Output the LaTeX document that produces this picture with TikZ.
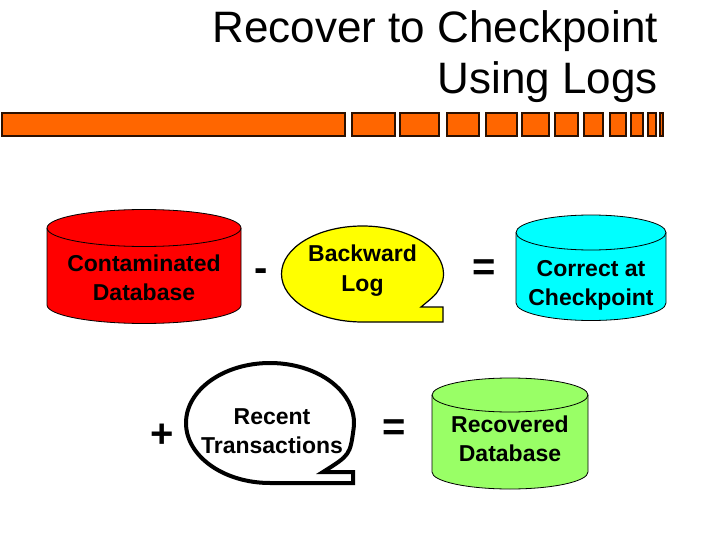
\documentclass[tikz,border=0pt]{standalone}
\usepackage{fontspec}
\setmainfont{Liberation Sans}
\definecolor{barorange}{HTML}{FF6600}
\definecolor{bardark}{HTML}{2B1000}
\definecolor{dbred}{HTML}{FF0000}
\definecolor{dbcyan}{HTML}{00FFFF}
\definecolor{dbgreen}{HTML}{99FF66}
\definecolor{logyellow}{HTML}{FFFF00}
\newcommand\dbcyl[6]{%
  \filldraw[cyl, fill=#6] (#1-#2,#3) -- (#1-#2,#4)
    arc[start angle=180, end angle=0, x radius=#2, y radius=#5]
    -- (#1+#2,#3)
    arc[start angle=0, end angle=-180, x radius=#2, y radius=#5] -- cycle;
  \draw[cyl] (#1-#2,#3) arc[start angle=180, end angle=0, x radius=#2, y radius=#5];
}
\begin{document}
\begin{tikzpicture}[x=1pt, y=-1pt,
  seg/.style={fill=barorange, draw=bardark, line width=1.6pt},
  cyl/.style={draw=black, line width=0.8pt},
  lbl/.style={font=\bfseries\fontsize{23}{29}\selectfont, align=center, inner sep=0pt},
  sym/.style={font=\bfseries\fontsize{40}{44}\selectfont, inner sep=0pt, anchor=base},
  ttl/.style={font=\fontsize{44}{51}\selectfont, align=right, inner sep=0pt, anchor=east}]
\useasboundingbox (0,0) rectangle (720,540);

% title
\node[ttl] (title) at (658,58) {\strut Recover to Checkpoint\\\strut Using Logs};

% bar
\foreach \a/\b in {2/345, 352/395, 400/439, 447/479, 486/517, 522/549, 555/578, 584/603, 610/626, 631/643, 648/656, 660/663}
  \draw[seg] (\a,113) rectangle (\b,136);

% cylinders
\dbcyl{144}{97}{228}{305}{18.5}{dbred}
\dbcyl{591}{75}{232.5}{303}{17.5}{dbcyan}
\dbcyl{510}{78}{395}{472}{17}{dbgreen}

\node[lbl] (contam) at (144,280.2) {\strut Contaminated\\\strut Database};
\node[lbl] (correct) at (591,284.7) {\strut Correct at\\\strut Checkpoint};
\node[lbl] (recovered) at (510,440.7) {\strut Recovered\\\strut Database};

% backward log callout
\filldraw[fill=logyellow, draw=black, line width=1.2pt]
  (362.5,322) arc[start angle=90, end angle=368, x radius=81, y radius=48]
  .. controls (438,293) .. (421,307) -- (443,307) -- (443,322) -- cycle;
\node[lbl] (backlog) at (362.5,270.7) {\strut Backward\\\strut Log};

% recent transactions callout
\filldraw[fill=white, draw=black, line width=4pt, line join=miter]
  (270,483) arc[start angle=90, end angle=365, x radius=84, y radius=60]
  .. controls (350,455) .. (323,472) -- (353,472) -- (353,483) -- cycle;
\node[lbl] (recent) at (272,432.7) {\strut Recent\\\strut Transactions};

% operators
\node[sym] (minus) at (261.5,281) {-};
\node[sym] (eqa) at (484,280) {=};
\node[sym] (plus) at (162,447) {+};
\node[sym] (eqb) at (394,440) {=};
\end{tikzpicture}
\end{document}
